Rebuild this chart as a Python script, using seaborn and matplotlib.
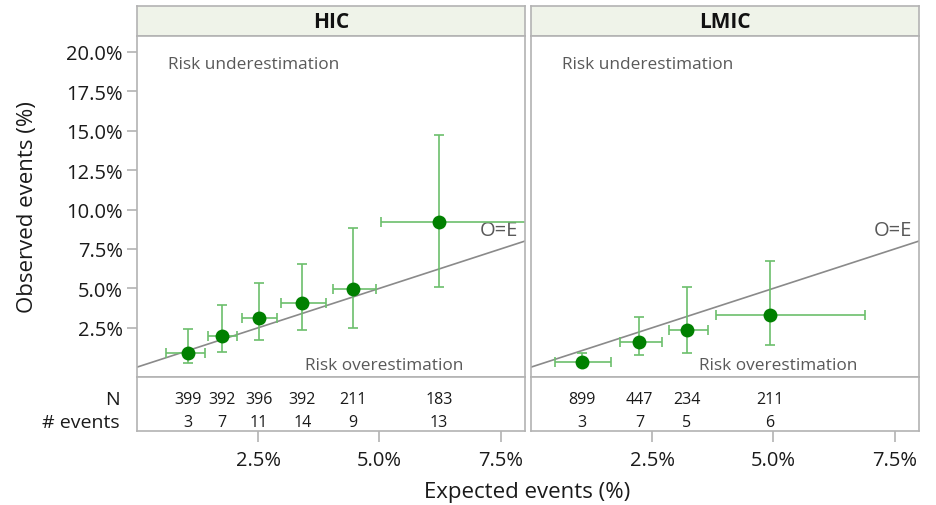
import numpy as np
import pandas as pd
import matplotlib
matplotlib.use("Agg")
import matplotlib.pyplot as plt
import seaborn as sns

# ---------------- data (percent) ----------------
groups = ["HIC", "LMIC"]

hic_expected = [1.06, 1.75, 2.52, 3.41, 4.46, 6.23]
hic_exp_lo = [0.61, 1.47, 2.17, 2.97, 4.05, 5.04]
hic_exp_hi = [1.40, 2.07, 2.90, 3.89, 4.92, 8.60]
hic_observed = [0.92, 2.01, 3.11, 4.08, 4.97, 9.20]
hic_obs_lo = [0.28, 0.94, 1.70, 2.35, 2.48, 5.10]
hic_obs_hi = [2.44, 3.93, 5.33, 6.55, 8.82, 14.75]
hic_n = [399, 392, 396, 392, 211, 183]
hic_events = [3, 7, 11, 14, 9, 13]

lmic_expected = [1.05, 2.24, 3.22, 4.92]
lmic_exp_lo = [0.50, 1.84, 2.84, 3.82]
lmic_exp_hi = [1.66, 2.71, 3.66, 6.88]
lmic_observed = [0.34, 1.63, 2.35, 3.31]
lmic_obs_lo = [0.10, 0.79, 0.89, 1.38]
lmic_obs_hi = [0.93, 3.16, 5.10, 6.73]
lmic_n = [899, 447, 234, 211]
lmic_events = [3, 7, 5, 6]

y_ticks = [2.5, 5.0, 7.5, 10.0, 12.5, 15.0, 17.5, 20.0]
x_ticks = [2.5, 5.0, 7.5]

panels = {
    "HIC": dict(exp=hic_expected, elo=hic_exp_lo, ehi=hic_exp_hi,
                obs=hic_observed, olo=hic_obs_lo, ohi=hic_obs_hi,
                n=hic_n, ev=hic_events),
    "LMIC": dict(exp=lmic_expected, elo=lmic_exp_lo, ehi=lmic_exp_hi,
                 obs=lmic_observed, olo=lmic_obs_lo, ohi=lmic_obs_hi,
                 n=lmic_n, ev=lmic_events),
}

# ---------------- style ----------------
sns.set_theme(style="white")
plt.rcParams['font.family'] = ['Open Sans', 'DejaVu Sans']

W, H = 936, 506
fig = plt.figure(figsize=(W / 100, H / 100), dpi=100)
fig.patch.set_facecolor("white")

border = "#b3b3b3"
strip_fc = "#eff3e9"
pt_color = "#008000"
err_color = "#6cbf6c"
ann_color = "#595959"
txt_color = "#1a1a1a"

xlims = (0, 8)
ylims = (-0.6, 21.0)

panel_x = {"HIC": (136.7, 525.0), "LMIC": (530.7, 919.0)}
strip_y = (7, 37)
main_y = (37, 377.7)
table_y = (377.7, 431.7)


def rect(x0, x1, y0, y1):
    return [x0 / W, 1 - y1 / H, (x1 - x0) / W, (y1 - y0) / H]


for gi, g in enumerate(groups):
    d = panels[g]
    x0, x1 = panel_x[g]

    # strip
    sax = fig.add_axes(rect(x0, x1, *strip_y))
    sax.set_facecolor(strip_fc)
    sax.set_xticks([]); sax.set_yticks([])
    for s in sax.spines.values():
        s.set_color(border); s.set_linewidth(1.2)
    sax.text(0.5, 0.5, g, ha="center", va="center", fontsize=15,
             fontweight="bold", color="#111111", transform=sax.transAxes)

    # main panel
    ax = fig.add_axes(rect(x0, x1, *main_y))
    ax.set_facecolor("white")
    ax.set_xlim(*xlims); ax.set_ylim(*ylims)
    for s in ax.spines.values():
        s.set_color(border); s.set_linewidth(1.2)
    ax.plot(xlims, xlims, color="#8a8a8a", lw=1.2, zorder=1)

    df = pd.DataFrame({"expected": d["exp"], "observed": d["obs"]})
    xerr = np.array([np.array(d["exp"]) - np.array(d["elo"]),
                     np.array(d["ehi"]) - np.array(d["exp"])])
    yerr = np.array([np.array(d["obs"]) - np.array(d["olo"]),
                     np.array(d["ohi"]) - np.array(d["obs"])])
    ax.errorbar(df["expected"], df["observed"], xerr=xerr, yerr=yerr,
                fmt="none", ecolor=err_color, elinewidth=1.2, capsize=3.5,
                capthick=1.2, zorder=2)
    sns.scatterplot(data=df, x="expected", y="observed", ax=ax,
                    color=pt_color, s=100, edgecolor=pt_color, linewidth=0,
                    zorder=3, legend=False)
    ax.set_xlabel(""); ax.set_ylabel("")
    ax.set_xticks([])
    if gi == 0:
        ax.set_yticks(y_ticks)
        ax.set_yticklabels([f"{v:.1f}%" for v in y_ticks], fontsize=14.5,
                           color=txt_color)
        ax.tick_params(axis="y", which="both", left=True, length=7,
                       width=1.2, color=border, pad=3)
    else:
        ax.set_yticks([])

    ax.text(0.64, 19.25, "Risk underestimation", ha="left", va="center",
            fontsize=12.4, color=ann_color)
    ax.text(5.1, 0.15, "Risk overestimation", ha="center", va="center",
            fontsize=12.4, color=ann_color)
    ax.text(7.85, 8.7, "O=E", ha="right", va="center",
            fontsize=14.5, color=ann_color, zorder=1)

    # table panel
    tax = fig.add_axes(rect(x0, x1, *table_y))
    tax.set_facecolor("white")
    tax.set_xlim(*xlims); tax.set_ylim(0, 1)
    for s in tax.spines.values():
        s.set_color(border); s.set_linewidth(1.2)
    tax.set_yticks([])
    tax.set_xticks(x_ticks)
    tax.set_xticklabels([f"{v:.1f}%" for v in x_ticks], fontsize=14.5,
                        color=txt_color)
    tax.tick_params(axis="x", which="both", bottom=True, length=8,
                    width=1.2, color=border, pad=6)
    for xv, nv, ev in zip(d["exp"], d["n"], d["ev"]):
        tax.text(xv, 0.58, str(nv), ha="center", va="center", fontsize=11.5,
                 color=txt_color)
        tax.text(xv, 0.17, str(ev), ha="center", va="center", fontsize=11.5,
                 color=txt_color)
    if gi == 0:
        tax.text(-0.043, 0.58, "N", ha="right", va="center", fontsize=14,
                 color=txt_color, transform=tax.transAxes)
        tax.text(-0.043, 0.17, "# events", ha="right", va="center",
                 fontsize=14, color=txt_color, transform=tax.transAxes)

fig.text(28 / W, 1 - 207 / H, "Observed events (%)", rotation=90,
         ha="center", va="center", fontsize=16, color=txt_color)
fig.text(527 / W, 1 - 493 / H, "Expected events (%)", ha="center",
         va="center", fontsize=16, color=txt_color)

fig.savefig("out.png", dpi=100, facecolor="white")
